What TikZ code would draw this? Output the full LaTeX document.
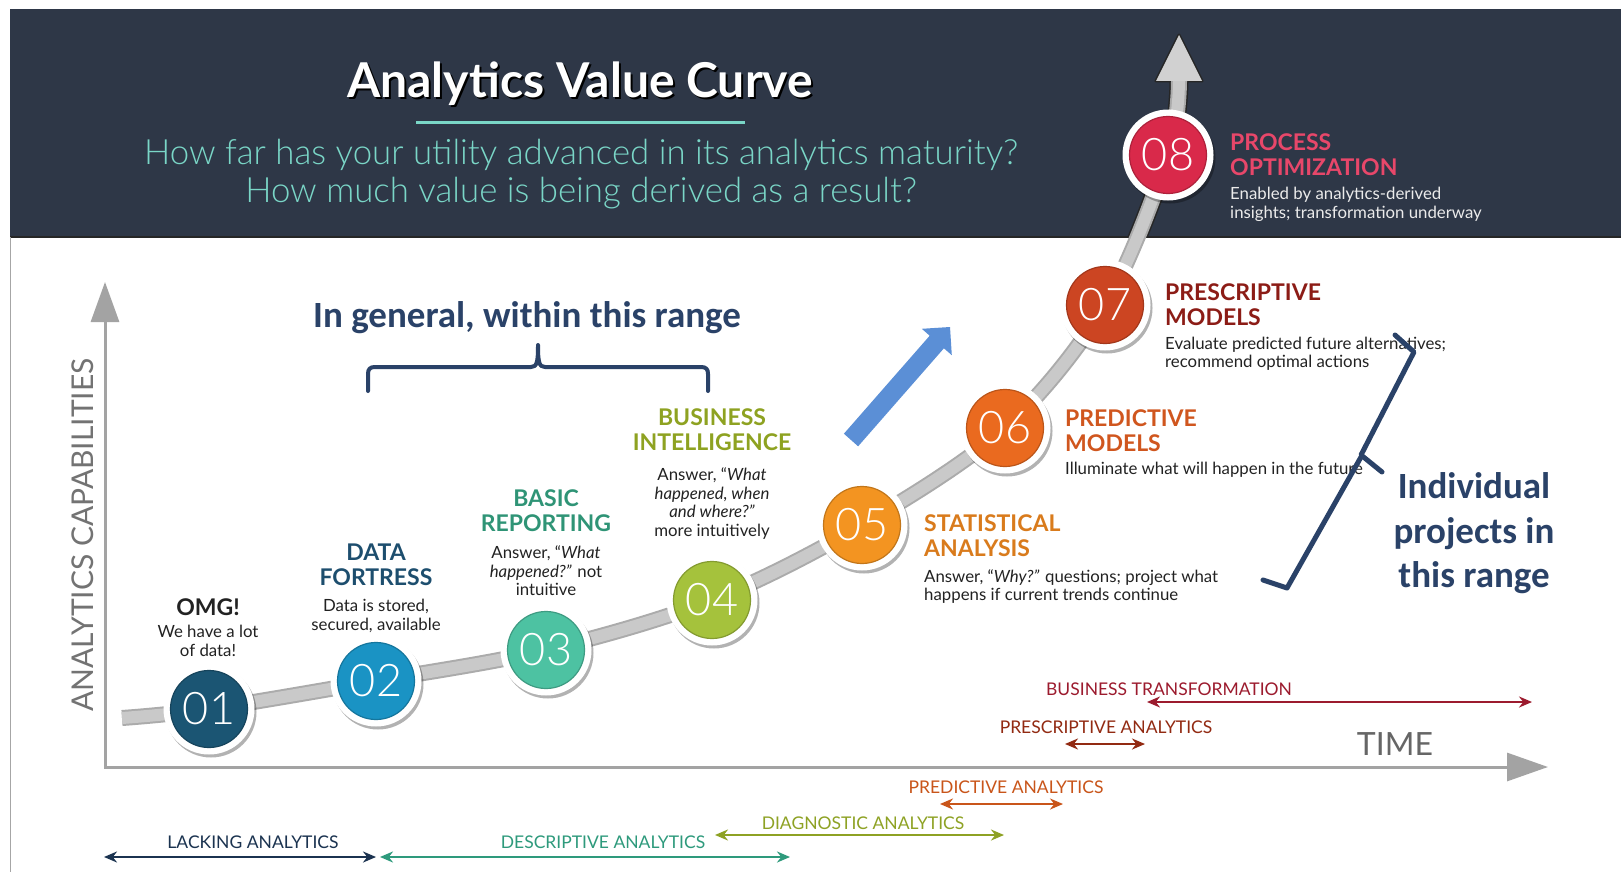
\documentclass[tikz,border=0pt]{standalone}
\usepackage{fontspec}
\setmainfont{Lato}
\IfFontExistsTF{Lato Light}{\newfontfamily\lightfont{Lato Light}}{\newfontfamily\lightfont{Lato}}
\newfontfamily\carlito{Carlito}
\usetikzlibrary{arrows.meta,shadows}

\definecolor{hdr}{HTML}{2E3747}
\definecolor{subt}{HTML}{7AD6C7}
\definecolor{cA}{HTML}{1B5573}
\definecolor{cB}{HTML}{1A93C4}
\definecolor{cC}{HTML}{4DC2A2}
\definecolor{cD}{HTML}{A5C23C}
\definecolor{cE}{HTML}{F39421}
\definecolor{cF}{HTML}{EA6A1F}
\definecolor{cG}{HTML}{CC4522}
\definecolor{cH}{HTML}{D9294A}
\definecolor{hA}{HTML}{222222}
\definecolor{hB}{HTML}{1D4E6E}
\definecolor{hC}{HTML}{2F9476}
\definecolor{hD}{HTML}{8EA221}
\definecolor{hE}{HTML}{D97B1C}
\definecolor{hF}{HTML}{D0561E}
\definecolor{hG}{HTML}{8C1C16}
\definecolor{hH}{HTML}{E8476A}
\definecolor{navy}{HTML}{2A4268}
\definecolor{barrow}{HTML}{5B8FD6}
\definecolor{crv}{HTML}{C9C9C9}
\definecolor{crvd}{HTML}{ABABAB}
\definecolor{axc}{HTML}{A3A3A3}
\definecolor{rBT}{HTML}{9C1B2E}
\definecolor{rPA}{HTML}{922A12}
\definecolor{rPR}{HTML}{C9551A}
\definecolor{rDG}{HTML}{8EA224}
\definecolor{rLA}{HTML}{1B3350}
\definecolor{rDE}{HTML}{2E9A7C}

\tikzset{
  ring/.style={circle, fill=white, minimum size=91pt, inner sep=0pt,
    drop shadow={shadow xshift=2pt, shadow yshift=-3pt, opacity=.3, fill=black}},
  disc/.style={circle, minimum size=77pt, inner sep=0pt, text=white,
    font=\lightfont\fontsize{45}{45}\selectfont},
  head/.style={anchor=north, align=center, inner sep=0pt,
    font=\bfseries\fontsize{23}{25}\selectfont, text=hA},
  headL/.style={head, anchor=north west, align=left},
  desc/.style={anchor=north, align=center, inner sep=0pt,
    font=\fontsize{16.8}{18.5}\selectfont, text=hA},
  descL/.style={desc, anchor=north west, align=left},
  rng/.style={line width=2.2pt, {Stealth[length=13pt,width=11pt]}-{Stealth[length=13pt,width=11pt]}},
  rlab/.style={anchor=base, inner sep=0pt, font=\fontsize{17.5}{17.5}\selectfont},
  bigtxt/.style={anchor=base, inner sep=0pt, text=navy,
    font=\carlito\bfseries\fontsize{37}{37}\selectfont},
  bracestyle/.style={draw=navy, line width=5pt, line cap=round, line join=round},
  subline/.style={anchor=base, inner sep=0pt, text=subt,
    font=\lightfont\fontsize{34.8}{34.8}\selectfont},
}

\begin{document}
\begin{tikzpicture}[x=1pt,y=-1pt]
\useasboundingbox (0,0) rectangle (1621,872);
\fill[white] (0,0) rectangle (1621,872);

% header
\fill[hdr] (10,9) rectangle (1621,237);
\draw[black!85, line width=2pt] (10,237) -- (1621,237);
\draw[black!35, line width=1pt] (10,237) -- (10,872);

% title
\node[anchor=base, inner sep=0pt, text=black, font=\bfseries\fontsize{48}{48}\selectfont] at (582,100) {Analytics Value Curve};
\node[anchor=base, inner sep=0pt, text=white, font=\bfseries\fontsize{48}{48}\selectfont] (title) at (580,98) {Analytics Value Curve};
\coordinate (ulA) at (416,123);
\coordinate (ulB) at (745,123);
\draw[subt, line width=3pt] (ulA) -- (ulB);
\node[subline] (sub1) at (581,164) {How far has your utility advanced in its analytics maturity?};
\node[subline] (sub2) at (581,202) {How much value is being derived as a result?};

% axes
\coordinate (ytop) at (105,282);
\coordinate (orig) at (105,767);
\coordinate (xend) at (1548,767);
\draw[axc, line width=3pt, {Triangle[length=40pt,width=28pt]}-{Triangle[length=41pt,width=28pt]}] (ytop) -- (orig) -- (xend);
\node[rotate=90, inner sep=0pt, text=black!55, font=\fontsize{30}{30}\selectfont] (ylab) at (83,535) {ANALYTICS CAPABILITIES};
\node[anchor=base, inner sep=0pt, text=black!60, font=\fontsize{32}{32}\selectfont] (xlab) at (1395,755) {TIME};

% curve points
\coordinate (p0) at (122,718);
\coordinate (p1) at (209,709);
\coordinate (p2) at (376,681);
\coordinate (p3) at (546,650);
\coordinate (p4) at (712,600);
\coordinate (p5) at (862,525);
\coordinate (p6) at (1005,428);
\coordinate (p7) at (1105,305);
\coordinate (p8) at (1168,155);
\coordinate (p9) at (1179,80);
\coordinate (tipL) at (1156,81);
\coordinate (tipT) at (1179,35);
\coordinate (tipR) at (1202,81);

\begin{scope}
\clip (10,9) rectangle (1621,236);
\draw[black!85, line width=19pt] plot[smooth, tension=0.55] coordinates {(p0) (p1) (p2) (p3) (p4) (p5) (p6) (p7) (p8) (p9)};
\end{scope}
\filldraw[black!85, line width=3pt, line join=round] (tipL) -- (tipT) -- (tipR) -- cycle;
\draw[crvd, line width=16pt] plot[smooth, tension=0.55] coordinates {(p0) (p1) (p2) (p3) (p4) (p5) (p6) (p7) (p8) (p9)};
\draw[crv, line width=12pt, yshift=1.5pt] plot[smooth, tension=0.55] coordinates {(p0) (p1) (p2) (p3) (p4) (p5) (p6) (p7) (p8) (p9)};
\fill[crv!85!white] (tipL) -- (tipT) -- (tipR) -- cycle;

% circles
\foreach \i/\c/\t in {1/cA/01, 2/cB/02, 3/cC/03, 4/cD/04, 5/cE/05, 6/cF/06, 7/cG/07, 8/cH/08}{
  \node[ring] (r\i) at (p\i) {};
  \node[disc, fill=\c, draw=\c!80!black, line width=1.2pt] (n\i) at (p\i) {\t};
}

% labels
\node[head] (t1) at (208,598) {OMG!};
\node[desc] (d1) at (208,625) {We have a lot\\of data!};
\node[head, text=hB] (t2) at (376,544) {DATA\\FORTRESS};
\node[desc] (d2) at (376,599) {Data is stored,\\secured, available};
\node[head, text=hC] (t3) at (546,489) {BASIC\\REPORTING};
\node[desc] (d3) at (546,545.5) {Answer, “\textit{What}\\\textit{happened?”} not\\intuitive};
\node[head, text=hD] (t4) at (712,408) {BUSINESS\\INTELLIGENCE};
\node[desc] (d4) at (712,467.5) {Answer, “\textit{What}\\\textit{happened, when}\\\textit{and where?”}\\more intuitively};
\node[headL, text=hE] (t5) at (924,514) {STATISTICAL\\ANALYSIS};
\node[descL] (d5) at (924,569) {Answer, “\textit{Why?”} questions; project what\\happens if current trends continue};
\node[headL, text=hF] (t6) at (1065,409) {PREDICTIVE\\MODELS};
\node[descL] (d6) at (1065,462) {Illuminate what will happen in the future};
\node[headL, text=hG] (t7) at (1165,283) {PRESCRIPTIVE\\MODELS};
\node[descL] (d7) at (1165,336.5) {Evaluate predicted future alternatives;\\recommend optimal actions};
\node[headL, text=hH] (t8) at (1230,133) {PROCESS\\OPTIMIZATION};
\node[descL, text=white!92!black] (d8) at (1230,187) {Enabled by analytics-derived\\insights; transformation underway};

% blue arrow
\fill[barrow] (843.9,433.7) -- (929.7,335.7) -- (921.8,328.8) -- (950,327) -- (951.8,355.2) -- (943.9,348.3) -- (858.1,446.3) -- cycle;

% general range
\node[bigtxt] (gen) at (527,327) {In general, within this range};
\draw[bracestyle, line width=4pt] (368,391) -- (368,374) .. controls (368,369) and (370,367) .. (375,367) -- (531,367) .. controls (537,367) and (538,362) .. (538,345) .. controls (538,362) and (539,367) .. (545,367) -- (701,367) .. controls (706,367) and (708,369) .. (708,374) -- (708,391);

% individual projects
\node[bigtxt] (ind1) at (1474,498) {Individual};
\node[bigtxt] (ind2) at (1474,543) {projects in};
\node[bigtxt] (ind3) at (1474,587) {this range};
\draw[bracestyle] (1395,335) -- (1414,352) -- (1361,455) -- (1382,472);
\draw[bracestyle] (1361,457) -- (1287,588) -- (1263,580);

% range arrows
\coordinate (bt1) at (1147,702); \coordinate (bt2) at (1532,702);
\draw[rng, rBT] (bt1) -- (bt2);
\node[rlab, text=rBT] (btl) at (1169,695) {BUSINESS TRANSFORMATION};
\coordinate (pa1) at (1065,744); \coordinate (pa2) at (1145,744);
\draw[rng, rPA] (pa1) -- (pa2);
\node[rlab, text=rPA] (pal) at (1106,733) {PRESCRIPTIVE ANALYTICS};
\coordinate (pr1) at (940,804); \coordinate (pr2) at (1063,804);
\draw[rng, rPR] (pr1) -- (pr2);
\node[rlab, text=rPR] (prl) at (1006,793) {PREDICTIVE ANALYTICS};
\coordinate (dg1) at (715,835); \coordinate (dg2) at (1004,835);
\draw[rng, rDG] (dg1) -- (dg2);
\node[rlab, text=rDG] (dgl) at (863,829) {DIAGNOSTIC ANALYTICS};
\coordinate (la1) at (104,857); \coordinate (la2) at (376,857);
\draw[rng, rLA] (la1) -- (la2);
\node[rlab, text=rLA] (lal) at (253,848) {LACKING ANALYTICS};
\coordinate (de1) at (380,857); \coordinate (de2) at (790,857);
\draw[rng, rDE] (de1) -- (de2);
\node[rlab, text=rDE] (del) at (603,848) {DESCRIPTIVE ANALYTICS};
\end{tikzpicture}
\end{document}
